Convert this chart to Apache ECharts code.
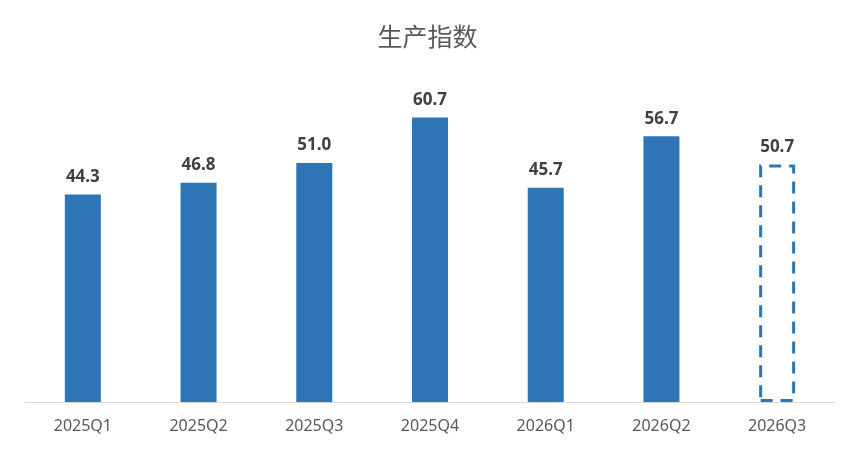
<!DOCTYPE html>
<html>
<head>
<meta charset="utf-8">
<script src="https://cdn.jsdelivr.net/npm/echarts@6/dist/echarts.min.js"></script>
<style>html,body{margin:0;padding:0;background:#fff;}#c{width:855px;height:450px;}</style>
</head>
<body>
<div id="c"></div>
<script>
var categories = ['2025Q1','2025Q2','2025Q3','2025Q4','2026Q1','2026Q2','2026Q3'];
var values = [44.3, 46.8, 51.0, 60.7, 45.7, 56.7, 50.7];
var forecastIndex = 6;
var titleText = '生产指数';

var blue = '#2E75B6';
var data = values.map(function (v, i) {
  if (i === forecastIndex) {
    return { value: v, itemStyle: { color: 'rgba(255,255,255,0)', borderColor: blue, borderWidth: 3, borderType: [12, 8] } };
  }
  return { value: v, itemStyle: { color: blue } };
});

var chart = echarts.init(document.getElementById('c'), null, { renderer: 'canvas' });
chart.setOption({
  animation: false,
  backgroundColor: '#fff',
  title: {
    text: titleText,
    left: 'center',
    top: 19,
    textStyle: { fontFamily: 'Noto Sans CJK SC', fontSize: 25, fontWeight: 'normal', color: '#595959' }
  },
  grid: { left: 25, right: 20, top: 74, bottom: 48, containLabel: false },
  xAxis: {
    type: 'category',
    data: categories,
    axisLine: { lineStyle: { color: '#D9D9D9', width: 1 } },
    axisTick: { show: false },
    axisLabel: { color: '#595959', fontSize: 16, fontFamily: 'Noto Sans', margin: 16 }
  },
  yAxis: {
    type: 'value', min: 0, max: 70,
    show: false,
    splitLine: { show: false }
  },
  series: [{
    type: 'bar',
    barWidth: 36,
    data: data,
    label: {
      show: true, position: 'top', distance: 9,
      color: '#404040', fontSize: 17, fontWeight: 'bold', fontFamily: 'Noto Sans',
      formatter: function (p) { return p.value.toFixed(1); }
    }
  }]
});
</script>
</body>
</html>
